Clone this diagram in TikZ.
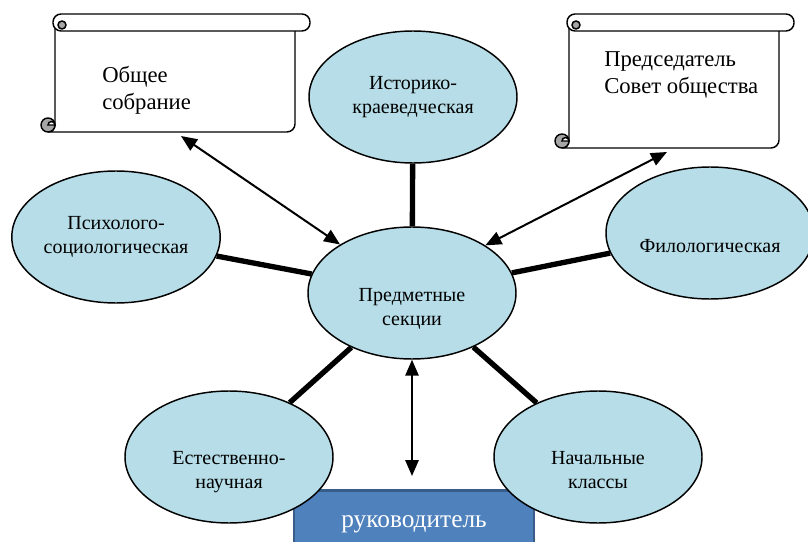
\documentclass[tikz,border=0pt]{standalone}
\usepackage{fontspec}
\setmainfont{Liberation Serif}
\usetikzlibrary{shapes.geometric,arrows.meta}

\definecolor{secfill}{HTML}{B7DEE8}
\definecolor{boxfill}{HTML}{4F81BD}
\definecolor{boxline}{HTML}{385D8A}
\definecolor{curlgray}{HTML}{A6A6A6}

\tikzset{
  section/.style={ellipse, draw, fill=secfill, line width=1.1pt, minimum width=156pt,
    minimum height=99pt, inner sep=1pt, align=center, font=\fontsize{15}{18}\selectfont},
  scrolltext/.style={align=left, inner sep=0pt, font=\fontsize{17}{20}\selectfont},
  leaderbox/.style={rectangle, draw=boxline, fill=boxfill, line width=2pt, minimum width=180pt,
    minimum height=50pt, text=white, font=\fontsize{19}{23}\selectfont},
  spoke/.style={line width=4pt},
  twoway/.style={{Triangle[length=12pt,width=10pt]}-{Triangle[length=12pt,width=10pt]}, line width=1.5pt},
  paper/.style={draw, fill=white, line width=1.1pt},
}

% scroll: left, top, right, bottom
\newcommand{\scrollpaper}[4]{%
  \draw[paper] (#1,{#2-8}) -- (#1,{#4+7}) arc[start angle=0,end angle=-90,radius=7]
    -- ({#3-8},#4) arc[start angle=-90,end angle=0,radius=8] -- (#3,{#2-8}) -- cycle;
  \draw[paper, fill=curlgray] ({#1-7},{#4+7}) circle[radius=7];
  \draw[paper] ({#1-7},{#4+7}) arc[start angle=180,end angle=0,radius=3.5] -- cycle;
  \draw[paper, rounded corners=6pt] ({#1-2},#2) rectangle ({#3+15},{#2-17});
  \draw[paper, fill=curlgray] ({#1+7},{#2-11}) circle[radius=4];
}

\begin{document}
\begin{tikzpicture}[x=0.75pt, y=0.75pt]
\useasboundingbox (0,0) rectangle (808,-542);
\clip (0,0) rectangle (808,-542);

% scrolls
\scrollpaper{55}{-14}{295}{-132}
\scrollpaper{569}{-14}{779}{-148}
\node[scrolltext, anchor=west] (meeting) at (102,-90) {Общее\\собрание};
\node[scrolltext, anchor=west] (council) at (604,-75) {Председатель\\Совет общества};
\coordinate (meetingend) at (181,-136);
\coordinate (councilend) at (667,-152);

% head of sections
\node[leaderbox] (leader) at (414,-524) {руководитель};

% sections
\node[section] (sections) at (412,-293) {\\[16pt]Предметные\\секции};
\node[section] (history) at (413,-97) {Историко-\\краеведческая};
\node[section] (psych) at (116,-237) {Психолого-\\социологическая};
\node[section] (philology) at (710,-233) {\\[11pt]Филологическая};
\node[section] (natural) at (229,-457) {\\[14pt]Естественно-\\научная};
\node[section] (primary) at (598,-457) {\\[11pt]Начальные\\классы};

\draw[spoke] (history) -- (sections);
\draw[spoke] (psych) -- (sections);
\draw[spoke] (philology) -- (sections);
\draw[spoke] (natural) -- (sections);
\draw[spoke] (primary) -- (sections);

\draw[twoway] (meetingend) -- (sections.146);
\draw[twoway] (councilend) -- (sections.33);
\draw[twoway, shorten >=10pt] (sections.south) -- (sections.south |- leader.north);
\end{tikzpicture}
\end{document}
